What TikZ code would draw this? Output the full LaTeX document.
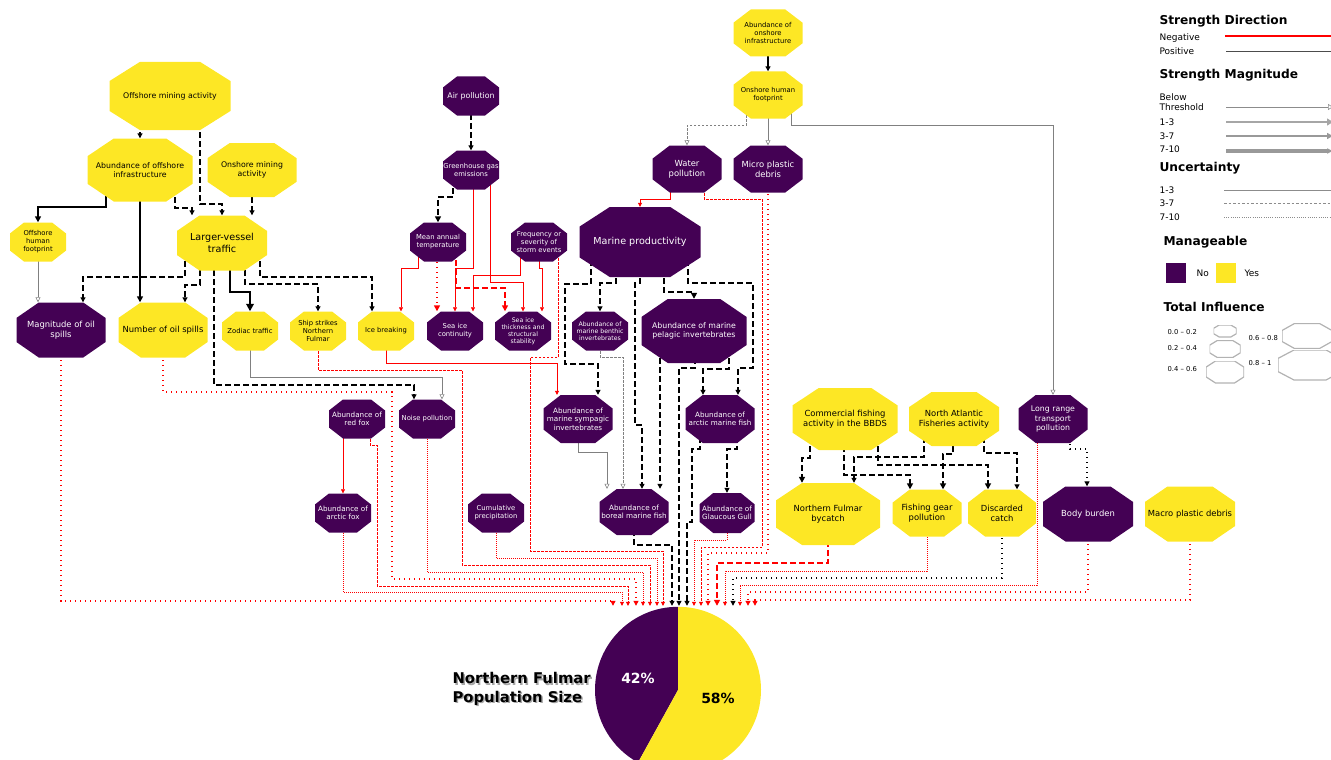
\documentclass[tikz,border=0pt]{standalone}
\usepackage{fontspec}
\setmainfont{DejaVu Sans}
\usepackage{xcolor}
\usetikzlibrary{arrows.meta,calc}
\definecolor{fulpur}{HTML}{440154}
\definecolor{fulyel}{HTML}{FDE725}
\pgfdeclarelayer{background}
\pgfsetlayers{background,main}
\tikzset{
  octpath/.style={insert path={let \p1=(path picture bounding box.south west), \p2=(path picture bounding box.north east), \n1={0.25*(\x2-\x1)}, \n2={0.28*(\y2-\y1)} in (\x1+\n1,\y1) -- (\x2-\n1,\y1) -- (\x2,\y1+\n2) -- (\x2,\y2-\n2) -- (\x2-\n1,\y2) -- (\x1+\n1,\y2) -- (\x1,\y2-\n2) -- (\x1,\y1+\n2) -- cycle}},
  oct/.style 2 args={rectangle, minimum width=#1pt, minimum height=#2pt, inner sep=0pt, align=center},
  mgyes/.style={text=black, path picture={\fill[fulyel, octpath];}},
  mgno/.style={text=white, path picture={\fill[fulpur, octpath];}},
  mgsize/.style={path picture={\draw[black!30, line width=1.2pt, octpath];}},
  fA/.style={font=\fontsize{6.2}{7.1}\selectfont},
  fB/.style={font=\fontsize{6.8}{8}\selectfont},
  fC/.style={font=\fontsize{7.2}{8.6}\selectfont},
  fD/.style={font=\fontsize{7.8}{9.3}\selectfont},
  fE/.style={font=\fontsize{8.4}{10}\selectfont},
  fF/.style={font=\fontsize{9.6}{11.5}\selectfont},
  lpos/.style={draw=black},
  lneg/.style={draw=red},
  bt/.style={draw=black!50, line width=0.6pt, -{Triangle[open, length=5pt, width=5pt]}},
  wa/.style={line width=0.5pt, -{Triangle[length=4pt, width=4pt]}},
  wb/.style={line width=1.1pt, -{Triangle[length=5pt, width=5pt]}},
  wc/.style={line width=1.6pt, -{Triangle[length=6pt, width=6pt]}},
  wd/.style={line width=2.2pt, -{Triangle[length=7.5pt, width=7.5pt]}},
  dA/.style={dash pattern=on 2.5pt off 1.5pt},
  dB/.style={dash pattern=on 6pt off 3pt},
  tA/.style={dash pattern=on 0.6pt off 1.4pt},
  tB/.style={dash pattern=on 1.4pt off 3.6pt},
  lgtitle/.style={anchor=west, font=\fontsize{12.2}{14}\bfseries\selectfont},
  lgtext/.style={anchor=west, font=\fontsize{9}{10.5}\selectfont},
  lgtiny/.style={anchor=west, font=\fontsize{6.8}{8}\selectfont}
}
\begin{document}
\begin{tikzpicture}[x=1pt,y=-1pt,line join=miter]
\useasboundingbox (0,0) rectangle (1331,760);

\node[oct={121}{68},mgyes,fD] (oma) at (170,96) {Offshore mining activity};
\node[oct={105}{63},mgyes,fD] (aoi) at (140,170) {Abundance of offshore\\infrastructure};
\node[oct={89}{54},mgyes,fD] (onma) at (252,170) {Onshore mining\\activity};
\node[oct={56}{39},mgyes,fB] (ohf) at (38,242) {Offshore\\human\\footprint};
\node[oct={90}{55},mgyes,fF] (lvt) at (222,243) {Larger-vessel\\traffic};
\node[oct={89}{55},mgno,fE] (mos) at (61,330) {Magnitude of oil\\spills};
\node[oct={89}{55},mgyes,fE] (nos) at (163,330) {Number of oil spills};
\node[oct={56}{39},mgyes,fB] (zod) at (250,331) {Zodiac traffic};
\node[oct={56}{39},mgyes,fB] (ship) at (318,331) {Ship strikes\\Northern\\Fulmar};
\node[oct={56}{39},mgyes,fB] (iceb) at (386,331) {Ice breaking};
\node[oct={56}{39},mgno,fB] (sic) at (455,331) {Sea ice\\continuity};
\node[oct={56}{39},mgno,fA] (sit) at (523,331) {Sea ice\\thickness and\\structural\\stability};
\node[oct={56}{39},mgno,fD] (air) at (471,96) {Air pollution};
\node[oct={56}{39},mgno,fB] (ghg) at (471,170) {Greenhouse gas\\emissions};
\node[oct={56}{39},mgno,fB] (mat) at (438,242) {Mean annual\\temperature};
\node[oct={56}{39},mgno,fB] (fos) at (539,242) {Frequency or\\severity of\\storm events};
\node[oct={69}{47},mgyes,fB] (aoni) at (768,33) {Abundance of\\onshore\\infrastructure};
\node[oct={69}{47},mgyes,fB] (onhf) at (768,95) {Onshore human\\footprint};
\node[oct={69}{47},mgno,fE] (wp) at (687,169) {Water\\pollution};
\node[oct={69}{47},mgno,fE] (mpd) at (768,169) {Micro plastic\\debris};
\node[oct={121}{70},mgno,fF] (mprod) at (640,242) {Marine productivity};
\node[oct={56}{39},mgno,fA] (benth) at (600,331) {Abundance of\\marine benthic\\invertebrates};
\node[oct={105}{64},mgno,fD] (pelag) at (694,331) {Abundance of marine\\pelagic invertebrates};
\node[oct={69}{48},mgno,fC] (symp) at (578,419) {Abundance of\\marine sympagic\\invertebrates};
\node[oct={69}{48},mgno,fC] (arcf) at (720,419) {Abundance of\\arctic marine fish};
\node[oct={56}{39},mgno,fC] (redf) at (357,419) {Abundance of\\red fox};
\node[oct={56}{39},mgno,fB] (noise) at (427,419) {Noise pollution};
\node[oct={69}{46},mgno,fC] (boreal) at (634,512) {Abundance of\\boreal marine fish};
\node[oct={55}{40},mgno,fC] (gull) at (727,513) {Abundance of\\Glaucous Gull};
\node[oct={56}{39},mgno,fC] (arcfox) at (343,513) {Abundance of\\arctic fox};
\node[oct={56}{39},mgno,fB] (cump) at (496,513) {Cumulative\\precipitation};
\node[oct={105}{62},mgyes,fE] (cfa) at (845,419) {Commercial fishing\\activity in the BBDS};
\node[oct={90}{54},mgyes,fE] (nafa) at (954,419) {North Atlantic\\Fisheries activity};
\node[oct={69}{48},mgno,fD] (lrtp) at (1053,419) {Long range\\transport\\pollution};
\node[oct={104}{62},mgyes,fE] (nfb) at (828,514) {Northern Fulmar\\bycatch};
\node[oct={69}{47},mgyes,fE] (fgp) at (927,513) {Fishing gear\\pollution};
\node[oct={68}{47},mgyes,fE] (disc) at (1002,513) {Discarded\\catch};
\node[oct={90}{55},mgno,fE] (bodyb) at (1088,514) {Body burden};
\node[oct={90}{55},mgyes,fE] (macro) at (1190,514) {Macro plastic debris};

\node[circle, minimum size=166pt, inner sep=0pt] (pie) at (678,690) {};
\fill[fulpur] (pie.center) -- (pie.north) arc[start angle=90, end angle=241.2, radius=83pt] -- cycle;
\fill[fulyel] (pie.center) -- (pie.north) arc[start angle=90, end angle=-118.8, radius=83pt] -- cycle;
\node[text=white, font=\fontsize{14}{16}\bfseries\selectfont] (pct42) at (638,678) {42\%};
\node[text=black, font=\fontsize{14}{16}\bfseries\selectfont] (pct58) at (718,698) {58\%};
\node[anchor=west, align=left, text=black!35, font=\fontsize{14.8}{18.5}\bfseries\selectfont] (titleshadow) at (450.5,690.5) {Northern Fulmar\\Population Size};
\node[anchor=west, align=left, font=\fontsize{14.8}{18.5}\bfseries\selectfont] (title) at (449,689) {Northern Fulmar\\Population Size};

\begin{pgfonlayer}{background}
\draw[lpos,wb,dB] ([xshift=-30pt]oma.center) -- (aoi.north);
\draw[lpos,wb,dB] ([xshift=30pt]oma.center) -- ++(0,108) -| (lvt.north);
\draw[lpos,wc] ([xshift=-34pt]aoi.center) -- ++(0,37) -| (ohf.north);
\draw[lpos,wc] (aoi.center) -- ([xshift=-23pt]nos.north);
\draw[lpos,wb,dB] ([xshift=35pt]aoi.center) -- ++(0,38) -| ([xshift=-30pt]lvt.north);
\draw[lpos,wb,dB] (onma.center) -- ([xshift=30pt]lvt.north);
\draw[bt] (ohf.center) -- ([xshift=-23pt]mos.north);
\draw[lpos,wb,dB] ([xshift=-37pt]lvt.center) -- ++(0,34) -| ([xshift=22pt]mos.north);
\draw[lpos,wb,dB] ([xshift=-22pt]lvt.center) -- ++(0,42) -| ([xshift=22pt]nos.north);
\draw[lpos,wd] ([xshift=8pt]lvt.center) -- ++(0,49) -| (zod.north);
\draw[lpos,wb,dB] ([xshift=23pt]lvt.center) -- ++(0,41) -| (ship.north);
\draw[lpos,wb,dB] ([xshift=38pt]lvt.center) -- ++(0,34) -| ([xshift=-14pt]iceb.north);
\draw[lpos,wb,dB] ([xshift=-8pt]lvt.center) -- ++(0,142) -| ([xshift=-13pt]noise.north);
\draw[bt] (zod.center) -- ++(0,46) -| ([xshift=15pt]noise.north);

\draw[lpos,wb,dB] (air.center) -- (ghg.north);
\draw[lpos,wc,dB] ([xshift=-18pt]ghg.center) -- ++(0,27) -| (mat.north);
\draw[lneg,wa] ([xshift=2pt]ghg.center) -- ++(0,98) -| (sic.north);
\draw[lneg,wa] ([xshift=19pt]ghg.center) -- ++(0,112) -| (sit.north);
\draw[lneg,wc,tB] ([xshift=-1pt]mat.center) -- ([xshift=-18pt]sic.north);
\draw[lneg,wc,dB] ([xshift=18pt]mat.center) -- ++(0,46) -| ([xshift=-18pt]sit.north);
\draw[lneg,wa] ([xshift=-19pt]fos.center) -- ++(0,33) -| ([xshift=18pt]sic.north);
\draw[lneg,wa] (fos.center) -- ++(0,26) -| ([xshift=19pt]sit.north);
\draw[lneg,wa] ([xshift=-20pt]mat.center) -- ++(0,26) -| ([xshift=15pt]iceb.north);
\draw[lneg,wa] (iceb.center) -- ++(0,32) -| ([xshift=-21pt]symp.north);

\draw[lpos,wb] (aoni.center) -- (onhf.north);
\draw[bt,dA] ([xshift=-22pt]onhf.center) -- ++(0,30) -| (wp.north);
\draw[bt] (onhf.center) -- (mpd.north);
\draw[bt] ([xshift=23pt]onhf.center) -- ++(0,30) -| (lrtp.north);
\draw[lneg,wa] ([xshift=-17pt]wp.center) -- ++(0,30) -| (mprod.north);

\draw[lpos,wb,dB] ([xshift=-24pt]mprod.center) -- ++(0,41) -| (benth.north);
\draw[lpos,wb,dB] ([xshift=-49pt]mprod.center) -- ++(0,42) -- ++(-26,0) -- ++(0,80) -| ([xshift=20pt]symp.north);
\draw[lpos,wb,dB] (mprod.center) -- ++(0,41) -- ++(-5,0) -- ++(0,142) -| ([xshift=8pt]boreal.north);
\draw[lpos,wc,dB] ([xshift=24pt]mprod.center) -- ++(0,50) -| (pelag.north);
\draw[lpos,wb,dB] ([xshift=48pt]mprod.center) -- ++(0,41) -- ++(65,0) -- ++(0,85) -| ([xshift=18pt]arcf.north);
\draw[lpos,wb,dB] ([xshift=35pt]pelag.center) -- ++(0,38) -| ([xshift=-17pt]arcf.north);
\draw[lpos,wb,dB] ([xshift=-34pt]pelag.center) -- ([xshift=26pt]boreal.north);
\draw[bt,dA] (benth.center) -- ++(0,26) -| ([xshift=-11pt]boreal.north);
\draw[bt] (symp.center) -- ++(0,33) -| ([xshift=-27pt]boreal.north);
\draw[lpos,wb,dB] ([xshift=17pt]arcf.center) -- ++(0,30) -| (gull.north);
\draw[lneg,wa] ([xshift=-14pt]redf.center) -- (arcfox.north);

\draw[lpos,wb,tB] ([xshift=17pt]lrtp.center) -- ++(0,30) -| ([xshift=-1pt]bodyb.north);
\draw[lpos,wc,dB] ([xshift=-35pt]cfa.center) -- ++(0,39) -| ([xshift=-26pt]nfb.north);
\draw[lpos,wc,dB] ([xshift=-1pt]cfa.center) -- ++(0,56) -| ([xshift=-17pt]fgp.north);
\draw[lpos,wc,dB] ([xshift=33pt]cfa.center) -- ++(0,46) -| ([xshift=-14pt]disc.north);
\draw[lpos,wb,dB] ([xshift=-30pt]nafa.center) -- ++(0,38) -| ([xshift=26pt]nfb.north);
\draw[lpos,wc,dB] ([xshift=-1pt]nafa.center) -- ++(0,35) -| ([xshift=16pt]fgp.north);
\draw[lpos,wb,dB] ([xshift=30pt]nafa.center) -- ++(0,34) -| ([xshift=15pt]disc.north);

\draw[lneg,wb,tB] (mos.center) -- ++(0,271) -| ([xshift=-65pt,yshift=1pt]pie.north);
\draw[lneg,wa,tA] (arcfox.center) -- ++(0,79) -| ([xshift=-56pt,yshift=1pt]pie.north);
\draw[lneg,wa,dA] ([xshift=13pt]redf.center) -- ++(0,26) -- ++(7,0) -- ++(0,141) -| ([xshift=-50pt,yshift=1pt]pie.north);
\draw[lneg,wb,tB] (nos.center) -- ++(0,62) -- ++(229,0) -- ++(0,187) -| ([xshift=-42pt,yshift=1pt]pie.north);
\draw[lneg,wa,tA] (noise.center) -- ++(0,153) -| ([xshift=-35pt,yshift=1pt]pie.north);
\draw[lneg,wa,dA] (ship.center) -- ++(0,39) -- ++(144,0) -- ++(0,195) -| ([xshift=-28pt,yshift=1pt]pie.north);
\draw[lneg,wa,tA] (cump.center) -- ++(0,45) -| ([xshift=-21pt,yshift=1pt]pie.north);
\draw[lneg,wa,dA] ([xshift=19pt]fos.center) -- ++(0,115) -- ++(-28,0) -- ++(0,194) -| ([xshift=-15pt,yshift=1pt]pie.north);
\draw[lpos,wb,dB] (boreal.center) -- ++(0,33) -| ([xshift=-6pt,yshift=1pt]pie.north);
\draw[lpos,wb,dB] ([xshift=1pt]pelag.center) -- ++(0,37) -| ([xshift=1pt,yshift=1pt]pie.north);
\draw[lpos,wb,dB] ([xshift=-20pt]arcf.center) -- ++(0,30) -- ++(-8,0) -- ++(0,73) -| ([xshift=9pt,yshift=1pt]pie.north);
\draw[lneg,wa,tA] (gull.center) -- ++(0,27) -| ([xshift=16pt,yshift=1pt]pie.north);
\draw[lneg,wa,dA] ([xshift=17pt]wp.center) -- ++(0,30) -- ++(58,0) -- ++(0,348) -| ([xshift=23pt,yshift=1pt]pie.north);
\draw[lneg,wb,tB] (mpd.center) -- ++(0,384) -| ([xshift=30pt,yshift=1pt]pie.north);
\draw[lneg,wc,dB] (nfb.center) -- ++(0,49) -| ([xshift=39pt,yshift=1pt]pie.north);
\draw[lneg,wa,tA] (fgp.center) -- ++(0,58) -| ([xshift=47pt,yshift=1pt]pie.north);
\draw[lpos,wb,tB] (disc.center) -- ++(0,65) -| ([xshift=55pt,yshift=1pt]pie.north);
\draw[lneg,wa,tA] ([xshift=-16pt]lrtp.center) -- ++(0,166) -| ([xshift=62pt,yshift=1pt]pie.north);
\draw[lneg,wb,tB] (bodyb.center) -- ++(0,78) -| ([xshift=70pt,yshift=1pt]pie.north);
\draw[lneg,wb,tB] (macro.center) -- ++(0,86) -| ([xshift=77pt,yshift=1pt]pie.north);
\end{pgfonlayer}

\node[lgtitle] (lgdir) at (1156,21) {Strength Direction};
\node[lgtext] (lgneg) at (1156,38) {Negative};
\node[lgtext] (lgpos) at (1156,51) {Positive};
\draw[red, line width=1.2pt] (1225,36) -- (1331,36);
\draw[black!70, line width=1pt] (1226,52) -- (1331,52);
\node[lgtitle] (lgmag) at (1156,75) {Strength Magnitude};
\node[lgtext, align=left] (lgbelow) at (1156,102) {Below\\Threshold};
\node[lgtext] (lgmaga) at (1156,122) {1-3};
\node[lgtext] (lgmagb) at (1156,136) {3-7};
\node[lgtext] (lgmagc) at (1156,149) {7-10};
\draw[black!45, line width=0.6pt, -{Triangle[open, length=5pt, width=6pt]}] (1226,107) -- (1333,107);
\draw[black!35, line width=1.2pt, -{Triangle[length=6pt, width=7pt]}] (1226,122) -- (1333,122);
\draw[black!40, line width=2.2pt, -{Triangle[length=6pt, width=6pt]}] (1226,136) -- (1333,136);
\draw[black!40, line width=3.6pt, -{Triangle[length=6pt, width=5pt]}] (1226,151) -- (1333,151);
\node[lgtitle] (lgunc) at (1156,168) {Uncertainty};
\node[lgtext] (lgunca) at (1156,190) {1-3};
\node[lgtext] (lguncb) at (1156,203) {3-7};
\node[lgtext] (lguncc) at (1156,217) {7-10};
\draw[black!45, line width=0.6pt] (1224,190) -- (1331,190);
\draw[black!45, line width=0.6pt, dash pattern=on 2.5pt off 2pt] (1224,203) -- (1331,203);
\draw[black!45, line width=0.6pt, dash pattern=on 0.6pt off 1.6pt] (1224,217) -- (1331,217);
\node[lgtitle] (lgman) at (1160,242) {Manageable};
\fill[fulpur] (1166,263) rectangle (1186,283);
\node[lgtext] (lgno) at (1193,273) {No};
\fill[fulyel] (1216,263) rectangle (1236,283);
\node[lgtext] (lgyes) at (1241,273) {Yes};
\node[lgtitle] (lgtot) at (1160,307) {Total Influence};
\node[lgtiny] (lgta) at (1164,332) {0.0 -- 0.2};
\node[lgtiny] (lgtb) at (1164,348) {0.2 -- 0.4};
\node[lgtiny] (lgtc) at (1164,369) {0.4 -- 0.6};
\node[lgtiny] (lgtd) at (1245,338) {0.6 -- 0.8};
\node[lgtiny] (lgte) at (1245,363) {0.8 -- 1};
\node[oct={23}{12},mgsize] (lgoa) at (1225,331) {};
\node[oct={31}{17},mgsize] (lgob) at (1225,349) {};
\node[oct={38}{22},mgsize] (lgoc) at (1225,372) {};
\node[oct={50}{25},mgsize] (lgod) at (1307,336) {};
\node[oct={64}{30},mgsize] (lgoe) at (1310,365) {};
\end{tikzpicture}
\end{document}
